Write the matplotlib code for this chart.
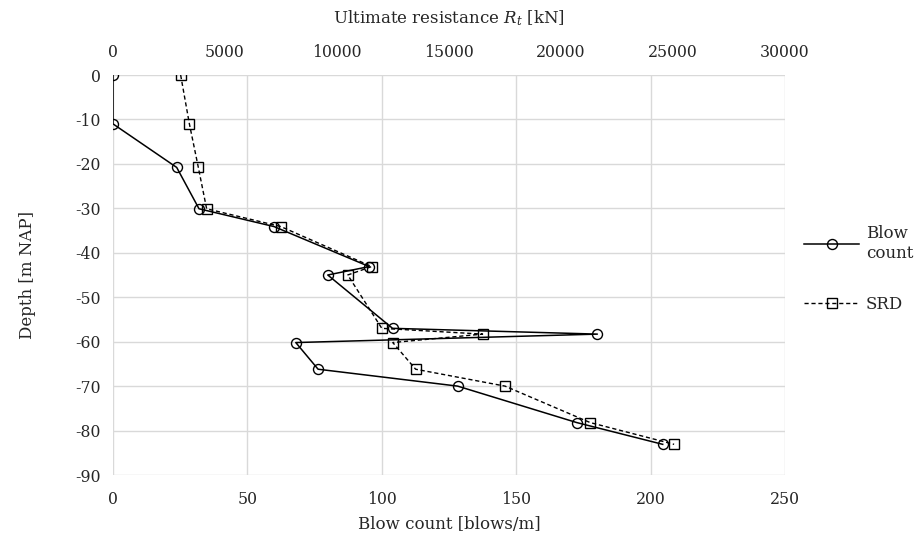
import matplotlib
matplotlib.use("Agg")
import matplotlib.pyplot as plt

# Depth levels [m NAP] shared by both series
depth = [0, -11, -20.8, -30.1, -34.1, -43.1, -45.0, -57.0, -58.3, -60.2, -66.2, -70.0, -78.2, -83.1]
# Blow count [blows/m]
blow_count = [0, 0, 23.7, 32.0, 59.9, 95.3, 79.9, 104.0, 180.2, 68.0, 76.3, 128.2, 172.5, 204.5]
# Ultimate resistance from SRD [kN]
srd = [3020, 3410, 3810, 4180, 7490, 11550, 10480, 12000, 16500, 12490, 13510, 17500, 21300, 25050]

bottom_ticks = [0, 50, 100, 150, 200, 250]
top_ticks = [0, 5000, 10000, 15000, 20000, 25000, 30000]
depth_ticks = [0, -10, -20, -30, -40, -50, -60, -70, -80, -90]

plt.rcParams["font.family"] = ["DejaVu Serif"]
plt.rcParams["mathtext.fontset"] = "dejavuserif"
plt.rcParams["axes.unicode_minus"] = False
text_color = "#262626"
grid_color = "#d9d9d9"
fs = 11.3
lfs = 12

fig = plt.figure(figsize=(9.19, 5.39), dpi=100)
ax = fig.add_axes([113 / 919, 64 / 539, 672 / 919, 400 / 539])

ax.set_xlim(0, 250)
ax.set_ylim(-90, 0)
ax.set_xticks(bottom_ticks)
ax.set_yticks(depth_ticks)
ax.grid(True, color=grid_color, linewidth=1.0)
ax.set_axisbelow(True)
for s in ax.spines.values():
    s.set_visible(False)
ax.tick_params(axis="both", length=0, labelsize=fs, colors=text_color)
ax.tick_params(axis="x", pad=11.5)
ax.tick_params(axis="y", pad=9)
ax.set_xlabel("Blow count [blows/m]", fontsize=lfs, color=text_color, labelpad=6)
ax.set_ylabel("Depth [m NAP]", fontsize=lfs, color=text_color, labelpad=28)

ax2 = ax.twiny()
ax2.set_xlim(0, 30000)
ax2.set_xticks(top_ticks)
for s in ax2.spines.values():
    s.set_visible(False)
ax2.tick_params(axis="x", length=0, labelsize=fs, colors=text_color, pad=10)
ax2.set_xlabel("Ultimate resistance $\\mathit{R_t}$ [kN]", fontsize=lfs,
               color=text_color, labelpad=15)

l1, = ax.plot(blow_count, depth, color="black", linewidth=1.1, marker="o",
              markersize=7.2, markerfacecolor="none", markeredgecolor="black",
              markeredgewidth=1.0, label="Blow\ncount", zorder=3)
l2, = ax2.plot(srd, depth, color="black", linewidth=1.0, linestyle=(0, (3, 2)),
               marker="s", markersize=7.2, markerfacecolor="none",
               markeredgecolor="black", markeredgewidth=1.0, label="SRD", zorder=3)

fig.legend(handles=[l1, l2], loc="upper left",
           bbox_to_anchor=(804 / 919, 1 - 225 / 539), frameon=False,
           borderpad=0, borderaxespad=0, handlelength=3.3, handletextpad=0.4,
           labelspacing=2.05, fontsize=lfs, labelcolor=text_color, numpoints=1)

fig.savefig("out.png", dpi=100)
